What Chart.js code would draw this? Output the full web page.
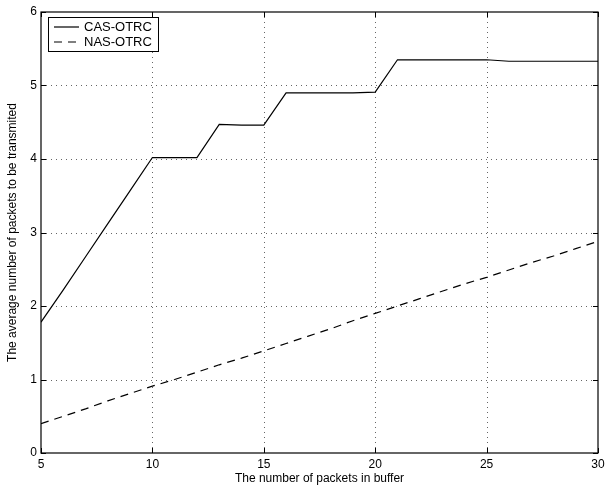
<!DOCTYPE html>
<html>
<head>
<meta charset="utf-8">
<script src="https://cdn.jsdelivr.net/npm/chart.js@4/dist/chart.umd.min.js"></script>
<style>
  html, body { margin: 0; padding: 0; background: #fff; }
  #wrap { width: 612px; height: 486px; }
</style>
</head>
<body>
<div id="wrap"><canvas id="plot" width="612" height="486"></canvas></div>
<script>
// values
const bufferSize = [5, 6, 7, 8, 9, 10, 11, 12, 13, 14, 15, 16, 17, 18, 19, 20, 21, 22, 23, 24, 25, 26, 27, 28, 29, 30];
const casOtrc = [1.78, 2.22, 2.67, 3.12, 3.57, 4.02, 4.02, 4.02, 4.47, 4.46, 4.46, 4.9, 4.9, 4.9, 4.9, 4.91, 5.35, 5.35, 5.35, 5.35, 5.35, 5.33, 5.33, 5.33, 5.33, 5.33];
const nasOtrc = [0.4, 0.5, 0.6, 0.71, 0.81, 0.91, 1.0, 1.1, 1.2, 1.29, 1.39, 1.49, 1.59, 1.69, 1.8, 1.9, 2.0, 2.1, 2.2, 2.3, 2.39, 2.49, 2.59, 2.68, 2.78, 2.88];
const xTicks = [5, 10, 15, 20, 25, 30];
const yTicks = [0, 1, 2, 3, 4, 5, 6];

const font = "'Liberation Sans', Arial, sans-serif";

function toPoints(ys) {
    return bufferSize.map((x, i) => ({ x: x, y: ys[i] }));
}

// dotted grid, box round the plot, inward ticks and the legend
const frame = {
    id: 'frame',
    beforeDatasetsDraw(chart) {
        const ctx = chart.ctx;
        const a = chart.chartArea;
        const sx = chart.scales.x, sy = chart.scales.y;
        ctx.save();
        ctx.strokeStyle = '#666';
        ctx.lineWidth = 1;
        ctx.setLineDash([1, 4]);
        ctx.beginPath();
        xTicks.slice(1, -1).forEach(v => {
            const px = Math.round(sx.getPixelForValue(v)) + 0.5;
            ctx.moveTo(px, a.top); ctx.lineTo(px, a.bottom);
        });
        yTicks.slice(1, -1).forEach(v => {
            const py = Math.round(sy.getPixelForValue(v)) + 0.5;
            ctx.moveTo(a.left, py); ctx.lineTo(a.right, py);
        });
        ctx.stroke();
        ctx.restore();
    },
    afterDatasetsDraw(chart) {
        const ctx = chart.ctx;
        const a = chart.chartArea;
        const sx = chart.scales.x, sy = chart.scales.y;
        ctx.save();
        ctx.strokeStyle = '#000';
        ctx.lineWidth = 1.2;
        ctx.strokeRect(a.left, a.top, a.right - a.left, a.bottom - a.top);
        ctx.lineWidth = 1;
        ctx.beginPath();
        xTicks.forEach(v => {
            const px = Math.round(sx.getPixelForValue(v)) + 0.5;
            ctx.moveTo(px, a.bottom); ctx.lineTo(px, a.bottom - 5);
            ctx.moveTo(px, a.top); ctx.lineTo(px, a.top + 5);
        });
        yTicks.forEach(v => {
            const py = Math.round(sy.getPixelForValue(v)) + 0.5;
            ctx.moveTo(a.left, py); ctx.lineTo(a.left + 5, py);
            ctx.moveTo(a.right, py); ctx.lineTo(a.right - 5, py);
        });
        ctx.stroke();

        // legend
        const lx = a.left + 7, ly = a.top + 5, lw = 110, lh = 34;
        ctx.fillStyle = '#fff';
        ctx.fillRect(lx, ly, lw, lh);
        ctx.lineWidth = 1;
        ctx.strokeRect(lx + 0.5, ly + 0.5, lw, lh);
        ctx.font = '13px ' + font;
        ctx.textBaseline = 'middle';
        chart.data.datasets.forEach((ds, i) => {
            const yy = ly + 10 + i * 15;
            ctx.beginPath();
            ctx.setLineDash(ds.borderDash || []);
            ctx.lineWidth = ds.borderWidth;
            ctx.moveTo(lx + 6, yy);
            ctx.lineTo(lx + 31, yy);
            ctx.stroke();
            ctx.setLineDash([]);
            ctx.fillStyle = '#000';
            ctx.fillText(ds.label, lx + 36, yy);
        });
        ctx.restore();
    }
};

new Chart(document.getElementById('plot'), {
    type: 'line',
    data: {
        datasets: [
            {
                label: 'CAS-OTRC',
                data: toPoints(casOtrc),
                borderColor: '#000',
                borderWidth: 1.2,
                pointRadius: 0,
                fill: false,
                tension: 0
            },
            {
                label: 'NAS-OTRC',
                data: toPoints(nasOtrc),
                borderColor: '#000',
                borderWidth: 1.2,
                borderDash: [8, 6],
                pointRadius: 0,
                fill: false,
                tension: 0
            }
        ]
    },
    options: {
        responsive: false,
        animation: false,
        layout: { padding: { top: 12, right: 14, left: 0, bottom: 0 } },
        plugins: {
            legend: { display: false },
            tooltip: { enabled: false }
        },
        scales: {
            x: {
                type: 'linear',
                min: 5,
                max: 30,
                afterBuildTicks: s => { s.ticks = xTicks.map(v => ({ value: v })); },
                afterFit: s => { s.height = 33; },
                grid: { display: false, drawTicks: false },
                border: { display: false },
                ticks: {
                    color: '#000',
                    font: { family: font, size: 12 },
                    padding: 4,
                    maxRotation: 0
                },
                title: {
                    display: true,
                    text: 'The number of packets in buffer',
                    color: '#000',
                    font: { family: font, size: 12 },
                    padding: { top: 0, bottom: 0 }
                }
            },
            y: {
                min: 0,
                max: 6,
                afterBuildTicks: s => { s.ticks = yTicks.map(v => ({ value: v })); },
                afterFit: s => { s.width = 41; },
                grid: { display: false, drawTicks: false },
                border: { display: false },
                ticks: {
                    color: '#000',
                    font: { family: font, size: 12 },
                    padding: 4
                },
                title: {
                    display: true,
                    text: 'The average number of packets to be transmited',
                    color: '#000',
                    font: { family: font, size: 12 },
                    padding: { top: 5, bottom: 0 }
                }
            }
        }
    },
    plugins: [frame]
});
</script>
</body>
</html>
